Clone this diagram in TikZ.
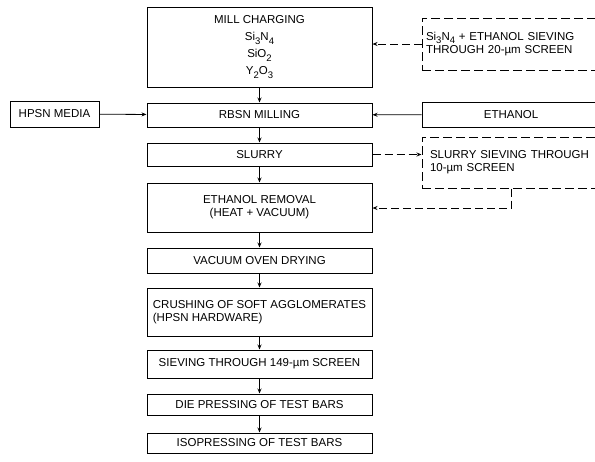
\documentclass[tikz,border=0pt]{standalone}
\usepackage{fontspec}
\setmainfont{Liberation Sans}
\usetikzlibrary{arrows.meta}
\newcommand{\lowtxt}[1]{\raisebox{-0.55ex}{\fontsize{9.5}{9.5}\selectfont #1}}

\begin{document}
\begin{tikzpicture}[x=1pt, y=-1pt,
    box/.style={draw, line width=1pt, minimum width=225pt, inner sep=2pt,
        align=center, font=\fontsize{11.5}{13}\selectfont},
    sidebox/.style={draw, line width=1pt, minimum width=178pt, inner sep=2pt,
        align=center, font=\fontsize{11.5}{13}\selectfont},
    dashbox/.style={sidebox, dash pattern=on 9pt off 4pt},
    flow/.style={-{Stealth[length=5pt, width=4pt]}, line width=0.8pt},
    dflow/.style={flow, dash pattern=on 8pt off 4pt}]
    \useasboundingbox (0,0) rectangle (595,461);

    % Main column
    \node[box, minimum height=80pt, font=\fontsize{11.5}{17}\selectfont] (mill) at (259.5,47)
        {MILL CHARGING\\ Si\lowtxt{3}N\lowtxt{4}\\ SiO\lowtxt{2}\\ Y\lowtxt{2}O\lowtxt{3}};
    \node[box, minimum height=24pt] (rbsn) at (259.5,115) {RBSN MILLING};
    \node[box, minimum height=23pt] (slurry) at (259.5,154.5) {SLURRY};
    \node[box, minimum height=49pt] (removal) at (259.5,207.5) {ETHANOL REMOVAL\\ (HEAT + VACUUM)};
    \node[box, minimum height=25pt] (oven) at (259.5,260.5) {VACUUM OVEN DRYING};
    \node[box, minimum height=48pt, align=left] (crush) at (259.5,312)
        {CRUSHING OF SOFT AGGLOMERATES\\ (HPSN HARDWARE)};
    \node[box, minimum height=28pt] (sieve) at (259.5,364) {SIEVING THROUGH 149-µm SCREEN};
    \node[box, minimum height=21pt] (die) at (259.5,404.5) {DIE PRESSING OF TEST BARS};
    \node[box, minimum height=20pt] (iso) at (259.5,443) {ISOPRESSING OF TEST BARS};

    % Side inputs
    \node[sidebox, minimum width=89pt, minimum height=26pt] (media) at (54.5,114) {HPSN MEDIA};
    \node[sidebox, minimum height=25pt] (ethanol) at (511,114.5) {ETHANOL};
    \node[dashbox, minimum height=52pt, align=left, text width=170pt, inner xsep=4pt] (presieve) at (511,44)
        {Si\lowtxt{3}N\lowtxt{4} + ETHANOL SIEVING\\ THROUGH 20-µm SCREEN};
    \node[dashbox, minimum height=51pt, align=left, text width=162pt, inner xsep=8pt] (slsieve) at (511,162.5)
        {SLURRY SIEVING THROUGH\\ 10-µm SCREEN};
    \coordinate (back) at (511,208);

    % Main flow
    \draw[flow] (mill) -- (rbsn);
    \draw[flow] (rbsn) -- (slurry);
    \draw[flow] (slurry) -- (removal);
    \draw[flow] (removal) -- (oven);
    \draw[flow] (oven) -- (crush);
    \draw[flow] (crush) -- (sieve);
    \draw[flow] (sieve) -- (die);
    \draw[flow] (die) -- (iso);

    % Side flows
    \draw[flow] (media) -- (rbsn);
    \draw[flow] (ethanol) -- (rbsn);
    \draw[dflow] (presieve.west) -- (presieve.west -| mill.east);
    \draw[dflow] (slurry.east) -- (slurry.east -| slsieve.west);
    \draw[dflow] (slsieve.south) -- (back) -- (back -| removal.east);
\end{tikzpicture}
\end{document}
